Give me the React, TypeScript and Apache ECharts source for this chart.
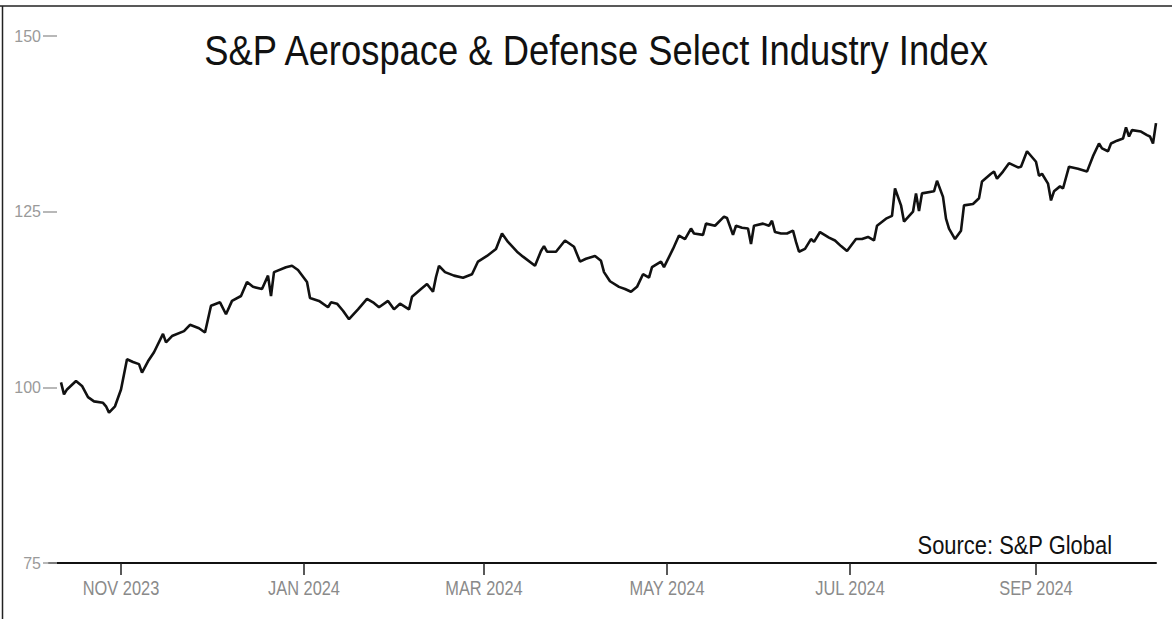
import React, { useEffect, useRef } from "react";
import * as echarts from "echarts";

const TITLE = "S&P Aerospace & Defense Select Industry Index";
const SOURCE = "Source: S&P Global";

const dates: string[] = [
  "2023-10-12","2023-10-13","2023-10-14","2023-10-17","2023-10-19","2023-10-21","2023-10-23","2023-10-26","2023-10-27","2023-10-28",
  "2023-10-30","2023-11-01","2023-11-03","2023-11-05","2023-11-07","2023-11-08","2023-11-10","2023-11-12","2023-11-15","2023-11-16",
  "2023-11-18","2023-11-22","2023-11-24","2023-11-27","2023-11-29","2023-12-01","2023-12-04","2023-12-06","2023-12-08","2023-12-11",
  "2023-12-13","2023-12-15","2023-12-18","2023-12-20","2023-12-21","2023-12-22","2023-12-26","2023-12-28","2023-12-30","2024-01-02",
  "2024-01-03","2024-01-06","2024-01-09","2024-01-10","2024-01-12","2024-01-14","2024-01-16","2024-01-19","2024-01-22","2024-01-24",
  "2024-01-26","2024-01-29","2024-01-31","2024-02-02","2024-02-05","2024-02-06","2024-02-09","2024-02-11","2024-02-13","2024-02-14",
  "2024-02-15","2024-02-17","2024-02-20","2024-02-23","2024-02-26","2024-02-28","2024-03-02","2024-03-05","2024-03-07","2024-03-09",
  "2024-03-12","2024-03-14","2024-03-18","2024-03-20","2024-03-21","2024-03-22","2024-03-25","2024-03-28","2024-03-31","2024-04-02",
  "2024-04-04","2024-04-07","2024-04-09","2024-04-10","2024-04-12","2024-04-15","2024-04-17","2024-04-19","2024-04-21","2024-04-23",
  "2024-04-25","2024-04-26","2024-04-29","2024-04-30","2024-05-03","2024-05-05","2024-05-07","2024-05-09","2024-05-10","2024-05-13",
  "2024-05-14","2024-05-17","2024-05-20","2024-05-21","2024-05-23","2024-05-24","2024-05-26","2024-05-28","2024-05-29","2024-05-30",
  "2024-06-02","2024-06-04","2024-06-05","2024-06-06","2024-06-08","2024-06-10","2024-06-12","2024-06-13","2024-06-14","2024-06-16",
  "2024-06-18","2024-06-19","2024-06-21","2024-06-24","2024-06-26","2024-06-28","2024-06-30","2024-07-03","2024-07-05","2024-07-07",
  "2024-07-09","2024-07-10","2024-07-13","2024-07-15","2024-07-16","2024-07-18","2024-07-19","2024-07-22","2024-07-23","2024-07-24",
  "2024-07-25","2024-07-29","2024-07-30","2024-08-01","2024-08-02","2024-08-03","2024-08-05","2024-08-07","2024-08-08","2024-08-11",
  "2024-08-13","2024-08-14","2024-08-17","2024-08-18","2024-08-19","2024-08-21","2024-08-23","2024-08-26","2024-08-27","2024-08-29",
  "2024-09-01","2024-09-02","2024-09-03","2024-09-05","2024-09-06","2024-09-07","2024-09-09","2024-09-10","2024-09-12","2024-09-15",
  "2024-09-18","2024-09-20","2024-09-22","2024-09-23","2024-09-25","2024-09-26","2024-09-28","2024-09-30","2024-10-01","2024-10-02",
  "2024-10-03","2024-10-06","2024-10-08","2024-10-09","2024-10-10","2024-10-11",
];

const values: number[] = [
  100.7, 99.0, 99.7, 100.9, 100.2, 98.6, 98.0, 97.8, 97.3, 96.4,
  97.3, 99.7, 104.0, 103.6, 103.3, 102.1, 103.7, 105.0, 107.6, 106.4,
  107.3, 108.0, 108.9, 108.4, 107.8, 111.6, 112.1, 110.4, 112.3, 113.0,
  115.0, 114.3, 114.0, 115.9, 113.0, 116.4, 117.1, 117.3, 116.7, 115.0,
  112.7, 112.3, 111.4, 112.1, 111.9, 110.9, 109.7, 111.1, 112.6, 112.1,
  111.4, 112.3, 111.1, 111.9, 111.1, 112.9, 114.0, 114.7, 113.6, 115.7,
  117.3, 116.4, 115.9, 115.6, 116.1, 117.9, 118.7, 119.7, 121.9, 120.7,
  119.3, 118.6, 117.3, 119.4, 120.1, 119.3, 119.3, 120.9, 120.0, 117.9,
  118.3, 118.7, 118.0, 116.4, 115.1, 114.3, 114.0, 113.6, 114.3, 116.1,
  115.6, 117.1, 117.9, 117.1, 119.7, 121.6, 121.1, 122.6, 121.9, 121.7,
  123.3, 123.0, 124.3, 124.1, 121.7, 123.0, 122.7, 122.6, 120.4, 123.0,
  123.3, 123.0, 123.7, 122.1, 121.9, 121.9, 122.3, 120.7, 119.3, 119.7,
  121.1, 120.7, 122.1, 121.3, 120.9, 120.1, 119.4, 121.1, 121.1, 121.4,
  120.9, 123.0, 124.0, 124.4, 128.3, 125.9, 123.6, 125.0, 127.6, 125.1,
  127.6, 127.9, 129.4, 127.1, 124.0, 122.6, 121.1, 122.3, 125.9, 126.1,
  126.9, 129.3, 130.4, 130.7, 129.7, 130.7, 131.9, 131.3, 131.4, 133.6,
  132.1, 130.1, 130.4, 129.0, 126.6, 127.9, 128.6, 128.3, 131.4, 131.1,
  130.7, 132.9, 134.7, 134.0, 133.6, 134.7, 135.1, 135.4, 137.0, 135.7,
  136.6, 136.4, 135.9, 135.7, 134.7, 137.6,
];

const xMin = "2023-10-08";
const xMax = "2024-10-11";
const monthTicks: string[] = ["2023-11-01", "2024-01-01", "2024-03-01", "2024-05-01", "2024-07-01", "2024-09-01"];
const monthNames: string[] = ["JAN", "FEB", "MAR", "APR", "MAY", "JUN", "JUL", "AUG", "SEP", "OCT", "NOV", "DEC"];
const yTicks: number[] = [75, 100, 125, 150];

function ts(s: string): number {
  const [y, m, d] = s.split("-").map(Number);
  return new Date(y, m - 1, d).getTime();
}

const FONT = "'Liberation Sans', Arial, sans-serif";

export default function App() {
  const ref = useRef<HTMLDivElement>(null);
  useEffect(() => {
    if (!ref.current) return;
    const chart = echarts.init(ref.current, null, { renderer: "svg" });
    const tickTs = monthTicks.map(ts);
    const baseGraphic: any[] = [
      { type: "line", shape: { x1: 0, y1: 6, x2: 1172, y2: 6 }, style: { stroke: "#222", lineWidth: 1.5 } },
      { type: "line", shape: { x1: 2.5, y1: 6, x2: 2.5, y2: 619 }, style: { stroke: "#222", lineWidth: 1.5 } },
      {
        type: "text",
        x: 596,
        y: 50,
        scaleX: 0.846,
        style: { text: TITLE, fill: "#111", fontFamily: FONT, fontSize: 43, align: "center", verticalAlign: "middle" },
      },
      {
        type: "text",
        x: 1112,
        y: 545,
        scaleX: 0.843,
        style: { text: SOURCE, fill: "#111", fontFamily: FONT, fontSize: 26, align: "right", verticalAlign: "middle" },
      },
    ];
    chart.setOption({
      animation: false,
      backgroundColor: "#ffffff",
      grid: { left: 49, right: 16, top: 36, bottom: 56 },
      xAxis: {
        type: "value",
        min: ts(xMin),
        max: ts(xMax),
        axisLine: { show: true, lineStyle: { color: "#111", width: 2 } },
        axisTick: { show: true, customValues: tickTs, length: 12, lineStyle: { color: "#222", width: 1.5 } },
        axisLabel: { show: false },
        splitLine: { show: false },
      },
      yAxis: {
        type: "value",
        min: 75,
        max: 150,
        offset: -8,
        axisLine: { show: false },
        axisTick: { show: true, customValues: yTicks, length: 14, lineStyle: { color: "#a0a0a0", width: 1.5 } },
        axisLabel: { customValues: yTicks, margin: 16, color: "#9a9a9a", fontFamily: FONT, fontSize: 16 },
        splitLine: { show: false },
      },
      series: [
        {
          type: "line",
          data: dates.map((d, i) => [ts(d), values[i]]),
          showSymbol: false,
          symbol: "none",
          lineStyle: { color: "#111", width: 2.6 },
          silent: true,
        },
      ],
      graphic: baseGraphic,
    });
    const labels = tickTs.map((t) => {
      const p = chart.convertToPixel({ xAxisIndex: 0, yAxisIndex: 0 }, [t, 75]) as number[];
      const d = new Date(t);
      return {
        type: "text",
        x: p[0],
        y: p[1] + 25,
        scaleX: 0.82,
        style: {
          text: monthNames[d.getMonth()] + " " + d.getFullYear(),
          fill: "#8a8a8a",
          fontFamily: FONT,
          fontSize: 20,
          align: "center",
          verticalAlign: "middle",
        },
      };
    });
    chart.setOption({ graphic: [...baseGraphic, ...labels] });
    return () => chart.dispose();
  }, []);
  return <div ref={ref} style={{ position: "absolute", left: 0, top: 0, width: 1172, height: 619 }} />;
}
